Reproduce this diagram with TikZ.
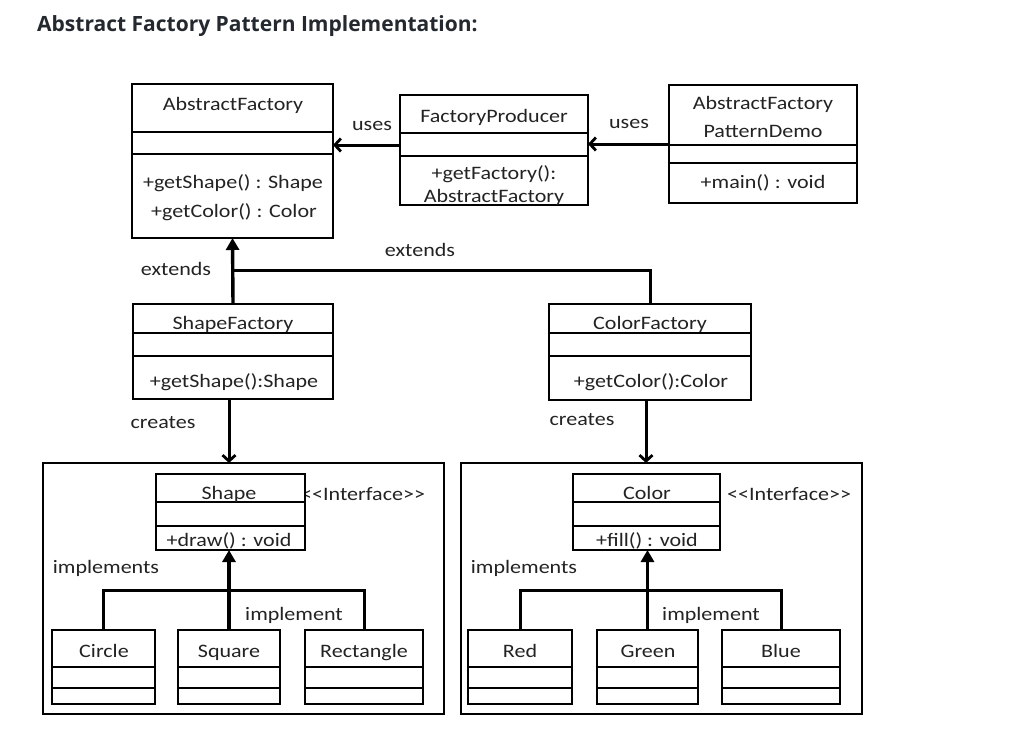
\documentclass[tikz,border=0pt]{standalone}
\usepackage{fontspec}
\usetikzlibrary{arrows.meta,calc}
\newfontfamily\boxfont[FakeStretch=1.16]{Carlito}
\newfontfamily\titlefont{Open Sans}
\definecolor{txtc}{RGB}{35,35,35}
\definecolor{titlec}{RGB}{36,41,47}
\tikzset{
  umlcls/.style={draw=black, line width=2.7pt, fill=white, inner sep=0pt, outer sep=0pt},
  pkgbox/.style={draw=black, line width=2.7pt, inner sep=0pt, outer sep=0pt},
  divline/.style={draw=black, line width=2.7pt},
  conn/.style={draw=black, line width=3pt},
  openarr/.style={conn, -{Straight Barb[length=6pt,width=13pt,line width=2.8pt]}},
  triarr/.style={conn, line width=3.4pt, -{Triangle[length=12pt,width=13pt]}},
  txt/.style={font=\boxfont\fontsize{19}{22}\selectfont, text=txtc, inner sep=0pt, anchor=base},
  lbl/.style={font=\boxfont\fontsize{19}{22}\selectfont, text=txtc, inner sep=0pt, anchor=base},
}
\newcommand\umlbox[7]{%
  \node[umlcls, minimum width={(#4-#2)*1pt}, minimum height={(#5-#3)*1pt}] (#1) at ({(#2+#4)/2},{(#3+#5)/2}) {};
  \draw[divline] (#2,#6) -- (#4,#6) (#2,#7) -- (#4,#7);
}
\begin{document}
\begin{tikzpicture}[x=1pt,y=-1pt]
\useasboundingbox[fill=white] (0,0) rectangle (1010,745);
% title
\node[font=\titlefont\bfseries\fontsize{21}{25}\selectfont, text=titlec, anchor=base west, inner sep=0pt] (title) at (37,31) {Abstract Factory Pattern Implementation:};

% packages
\node[pkgbox, minimum width=401pt, minimum height=251pt] (lpkg) at ({(43+444)/2},{(463+714)/2}) {};
\node[pkgbox, minimum width=401pt, minimum height=251pt] (rpkg) at ({(461+862)/2},{(463+714)/2}) {};

% interface labels (drawn before boxes so the box border overlaps)
\node[lbl, anchor=base west] (ifl) at (301,500) {<<Interface>>};
\node[lbl, anchor=base west] (ifr) at (727,500) {<<Interface>>};

% class boxes
\umlbox{af}{132}{84}{333}{238}{132}{154}
\umlbox{fp}{400}{95}{588}{205}{133}{156}
\umlbox{demo}{669}{85}{857}{203}{145}{163}
\umlbox{sf}{133}{304}{333}{399}{333}{356}
\umlbox{cf}{549}{304}{751}{400}{333}{356}
\umlbox{sh}{156}{474}{305}{550}{502}{526}
\umlbox{co}{573}{474}{720}{550}{502}{526}
\umlbox{ci}{52}{630}{155}{704}{667}{688}
\umlbox{sq}{178}{630}{280}{704}{667}{688}
\umlbox{re}{305}{630}{423}{704}{667}{688}
\umlbox{rd}{468}{630}{572}{704}{667}{688}
\umlbox{gr}{597}{630}{698}{704}{667}{688}
\umlbox{bl}{722}{630}{840}{704}{667}{688}

% box texts
\node[txt] (afn) at (233,110) {AbstractFactory};
\node[txt] (afm1) at (233,188) {+getShape() : Shape};
\node[txt] (afm2) at (234,217) {+getColor() : Color};
\node[txt] (fpn) at (494,122) {FactoryProducer};
\node[txt] (fpm1) at (494,179) {+getFactory():};
\node[txt] (fpm2) at (494,202) {AbstractFactory};
\node[txt] (dn1) at (763,109) {AbstractFactory};
\node[txt] (dn2) at (763,137) {PatternDemo};
\node[txt] (dm) at (763,188) {+main() : void};
\node[txt] (sfn) at (233,329) {ShapeFactory};
\node[txt] (sfm) at (234,387) {+getShape():Shape};
\node[txt] (cfn) at (650,329) {ColorFactory};
\node[txt] (cfm) at (651,387) {+getColor():Color};
\node[txt] (shn) at (229,499) {Shape};
\node[txt] (shm) at (229,546) {+draw() : void};
\node[txt] (con) at (647,499) {Color};
\node[txt] (com) at (647,546) {+fill() : void};
\node[txt] (cin) at (104,657) {Circle};
\node[txt] (sqn) at (229,657) {Square};
\node[txt] (ren) at (364,657) {Rectangle};
\node[txt] (rdn) at (520,657) {Red};
\node[txt] (grn) at (648,657) {Green};
\node[txt] (bln) at (781,657) {Blue};

% connector labels
\node[lbl] (u1) at (372,130) {uses};
\node[lbl] (u2) at (629,128) {uses};
\node[lbl] (e1) at (176,275) {extends};
\node[lbl] (e2) at (420,256) {extends};
\node[lbl] (c1) at (163,428) {creates};
\node[lbl] (c2) at (582,425) {creates};
\node[lbl] (i1) at (106,573) {implements};
\node[lbl] (i2) at (524,573) {implements};
\node[lbl] (i3) at (294,620) {implement};
\node[lbl] (i4) at (711,620) {implement};

% connectors
\coordinate (fpw) at ([yshift=5pt]fp.west);
\draw[openarr] (fpw) -- (fpw -| af.east);
\draw[openarr] (demo.west) -- (demo.west -| fp.east);
\draw[triarr] (sf.north) -- (af.south);
\coordinate (ej) at (233,270);
\draw[conn] (cf.north) |- (ej);
\coordinate (sfs) at ([xshift=-4pt]sf.south);
\draw[openarr] (sfs) -- (sfs |- lpkg.north);
\coordinate (cfs) at ([xshift=-4pt]cf.south);
\draw[openarr] (cfs) -- (cfs |- rpkg.north);
\draw[triarr] (sq.north) -- (sq.north |- sh.south);
\coordinate (ij1) at (229,590);
\draw[conn] (ci.north) |- (ij1) -| (re.north);
\draw[triarr] (gr.north) -- (gr.north |- co.south);
\coordinate (ij2) at (647,590);
\draw[conn] (rd.north) |- (ij2) -| (bl.north);
\end{tikzpicture}
\end{document}
